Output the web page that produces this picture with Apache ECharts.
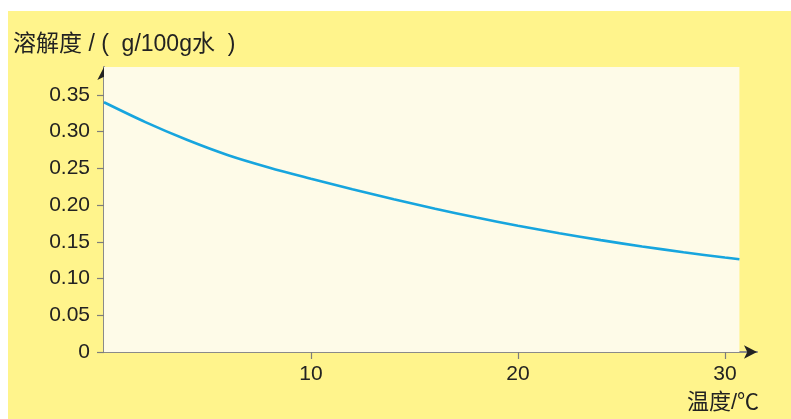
<!DOCTYPE html>
<html>
<head>
<meta charset="utf-8">
<script src="https://cdn.jsdelivr.net/npm/echarts@6/dist/echarts.min.js"></script>
<style>
html,body{margin:0;padding:0;background:#ffffff;width:791px;height:419px;overflow:hidden;}
#chart{position:absolute;left:8px;top:11px;width:783px;height:408px;background:#FFF48C;}
</style>
</head>
<body>
<div id="chart"></div>
<script>
// Data
const temperatures = [0, 2, 4, 6, 8, 10, 12, 14, 16, 18, 20, 22, 24, 26, 28, 30, 30.7];
const solubility = [0.340, 0.313, 0.289, 0.268, 0.251, 0.236, 0.2215, 0.208, 0.1950, 0.1830, 0.1719, 0.1617, 0.1523, 0.1437, 0.1358, 0.1286, 0.1262];
const yTicks = [0, 0.05, 0.10, 0.15, 0.20, 0.25, 0.30, 0.35];
const xTicks = [10, 20, 30];
const yTitle = '溶解度 / (  g/100g水  )';
const xTitle = '温度/℃';
const plotXMax = 30.7;
const plotYMax = 0.388;
const axisXMax = 31.55;

const FONT = '"Liberation Sans", "Noto Sans CJK SC", sans-serif';
const GRID = {left: 96, right: 34, top: 56, bottom: 67, containLabel: false};
const chart = echarts.init(document.getElementById('chart'), null, {renderer: 'canvas'});
chart.setOption({
  animation: false,
  backgroundColor: '#FFF48C',
  title: [
    {text: yTitle, left: 5, top: 22, padding: 0, textStyle: {fontFamily: FONT, fontSize: 23, fontWeight: 'normal', color: '#222'}},
    {text: xTitle, left: 679, top: 381, padding: 0, textStyle: {fontFamily: FONT, fontSize: 22, fontWeight: 'normal', color: '#222'}}
  ],
  grid: GRID,
  xAxis: [{
    type: 'value', min: 0, max: axisXMax,
    splitLine: {show: false},
    axisLine: {show: true, lineStyle: {color: '#8a8a8a', width: 2}},
    axisTick: {show: true, customValues: xTicks, length: 7, lineStyle: {color: '#7d7d7d', width: 1.2}},
    axisLabel: {customValues: xTicks, margin: 12, fontFamily: FONT, fontSize: 21, color: '#222'}
  }, {
    type: 'value', min: 0, max: axisXMax, position: 'bottom',
    splitLine: {show: false}, axisTick: {show: false}, axisLabel: {show: false},
    axisLine: {show: true, lineStyle: {color: '#222', width: 0.01}, symbol: ['none', 'arrow'], symbolSize: [10, 13]}
  }],
  yAxis: [{
    type: 'value', min: 0, max: plotYMax,
    splitLine: {show: false},
    axisLine: {show: true, lineStyle: {color: '#8a8a8a', width: 2}},
    axisTick: {show: true, customValues: yTicks, length: 7, lineStyle: {color: '#7d7d7d', width: 1.2}},
    axisLabel: {customValues: yTicks, margin: 14, fontFamily: FONT, fontSize: 21, color: '#222',
      formatter: v => v === 0 ? '0' : v.toFixed(2)}
  }, {
    type: 'value', min: 0, max: plotYMax, position: 'left',
    splitLine: {show: false}, axisTick: {show: false}, axisLabel: {show: false},
    axisLine: {show: true, lineStyle: {color: '#222', width: 0.01}, symbol: ['none', 'arrow'], symbolSize: [10, 13]}
  }],
  series: [{
    type: 'line',
    xAxisIndex: 0, yAxisIndex: 0,
    data: temperatures.map((t, i) => [t, solubility[i]]),
    smooth: 0.3,
    symbol: 'none',
    lineStyle: {color: '#17A5DE', width: 2.6},
    markArea: {
      silent: true,
      itemStyle: {color: '#FEFBE8'},
      data: [[{coord: [0, 0]}, {coord: [plotXMax, plotYMax]}]]
    },
    z: 3
  }]
});
</script>
</body>
</html>
